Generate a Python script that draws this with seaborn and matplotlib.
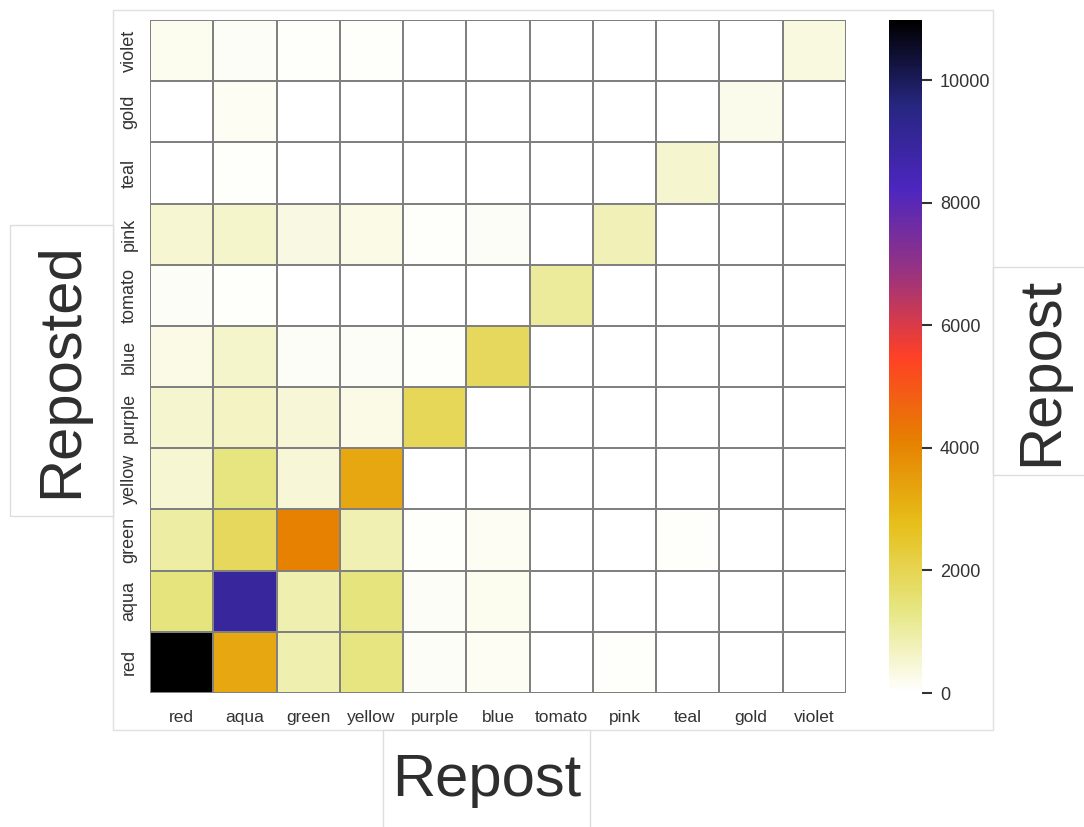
import numpy as np
import pandas as pd
import matplotlib
matplotlib.use("Agg")
import matplotlib.pyplot as plt
from matplotlib.patches import Rectangle
import seaborn as sns

categories = ["red", "aqua", "green", "yellow", "purple", "blue",
              "tomato", "pink", "teal", "gold", "violet"]

# rows: reposted colour, columns: repost colour
row_red    = [10980, 3300,  900, 1380,  110,  170,    0,   60,   0,   0,   0]
row_aqua   = [1450, 9000,  900, 1450,  100,  200,    0,   40,   0,  30,   0]
row_green  = [1000, 1850, 4100,  850,   70,  130,    0,    0,  60,   0,   0]
row_yellow = [ 500, 1400,  450, 3300,   30,    0,    0,   40,   0,   0,   0]
row_purple = [ 520,  650,  470,  300, 1900,   30,    0,   40,   0,   0,   0]
row_blue   = [ 280,  600,  120,  110,   60, 1850,    0,    0,   0,   0,   0]
row_tomato = [ 100,   50,    0,    0,    0,    0, 1080,    0,   0,   0,   0]
row_pink   = [ 480,  560,  320,  290,   80,   90,    0,  800,   0,   0,   0]
row_teal   = [   0,   50,   30,   40,    0,    0,    0,    0, 520,   0,   0]
row_gold   = [  30,  150,   40,   40,    0,    0,    0,    0,   0, 240,   0]
row_violet = [ 180,   90,   60,   60,    0,    0,    0,    0,   0,   0, 350]

cbar_ticks = [0, 2000, 4000, 6000, 8000, 10000]

matrix = pd.DataFrame(
    [row_red, row_aqua, row_green, row_yellow, row_purple, row_blue,
     row_tomato, row_pink, row_teal, row_gold, row_violet],
    index=categories, columns=categories)

sns.set_theme(style="white")
plt.rcParams["font.family"] = ["Liberation Sans", "DejaVu Sans"]

W, H = 1084, 827
fig = plt.figure(figsize=(W / 100, H / 100), dpi=100)


def fbox(x0, y0, x1, y1):
    """Figure-fraction rectangle from pixel coords (top-left origin)."""
    return [x0 / W, 1 - y1 / H, (x1 - x0) / W, (y1 - y0) / H]


# outer frame around the chart area
l, b, w, h = fbox(113, 10, 993, 730)
fig.patches.append(Rectangle((l, b), w, h, transform=fig.transFigure,
                             facecolor="none", edgecolor="#e0e0e0", lw=1,
                             zorder=0))

ax = fig.add_axes(fbox(150, 20, 846, 693))
cax = fig.add_axes(fbox(889, 20, 922, 693))

sns.heatmap(matrix, ax=ax, cbar_ax=cax, cmap="CMRmap_r",
            vmin=0, vmax=10980, linewidths=1.2, linecolor="#808080",
            square=False)
ax.invert_yaxis()

ax.set_xlabel("")
ax.set_ylabel("")
ax.tick_params(axis="both", length=0, colors="#333333")
ax.tick_params(axis="x", labelsize=12.5, pad=12)
ax.tick_params(axis="y", labelsize=13, pad=9)
ax.set_xticklabels(categories, rotation=0)
ax.set_yticklabels(categories, rotation=90, va="center")

cax.set_yticks(cbar_ticks)
cax.tick_params(axis="y", length=7, width=1.5, color="#333333",
                labelsize=13, labelcolor="#333333", pad=6)

# axis titles in framed boxes
label_style = dict(fontsize=43, color="#2e2e2e", ha="center", va="center")

for (x0, y0, x1, y1), txt, rot in [
        ((10, 225, 113, 516), "Reposted", 90),
        ((993, 267, 1090, 475), "Repost", 90),
        ((383, 730, 590, 832), "Repost", 0)]:
    l, b, w, h = fbox(x0, y0, x1, y1)
    fig.patches.append(Rectangle((l, b), w, h, transform=fig.transFigure,
                                 facecolor="white", edgecolor="#dddddd",
                                 lw=1, zorder=1))
    fig.text(l + w / 2, b + h / 2, txt, rotation=rot, zorder=2,
             **label_style)

fig.savefig("out.png", dpi=100, facecolor="white")
